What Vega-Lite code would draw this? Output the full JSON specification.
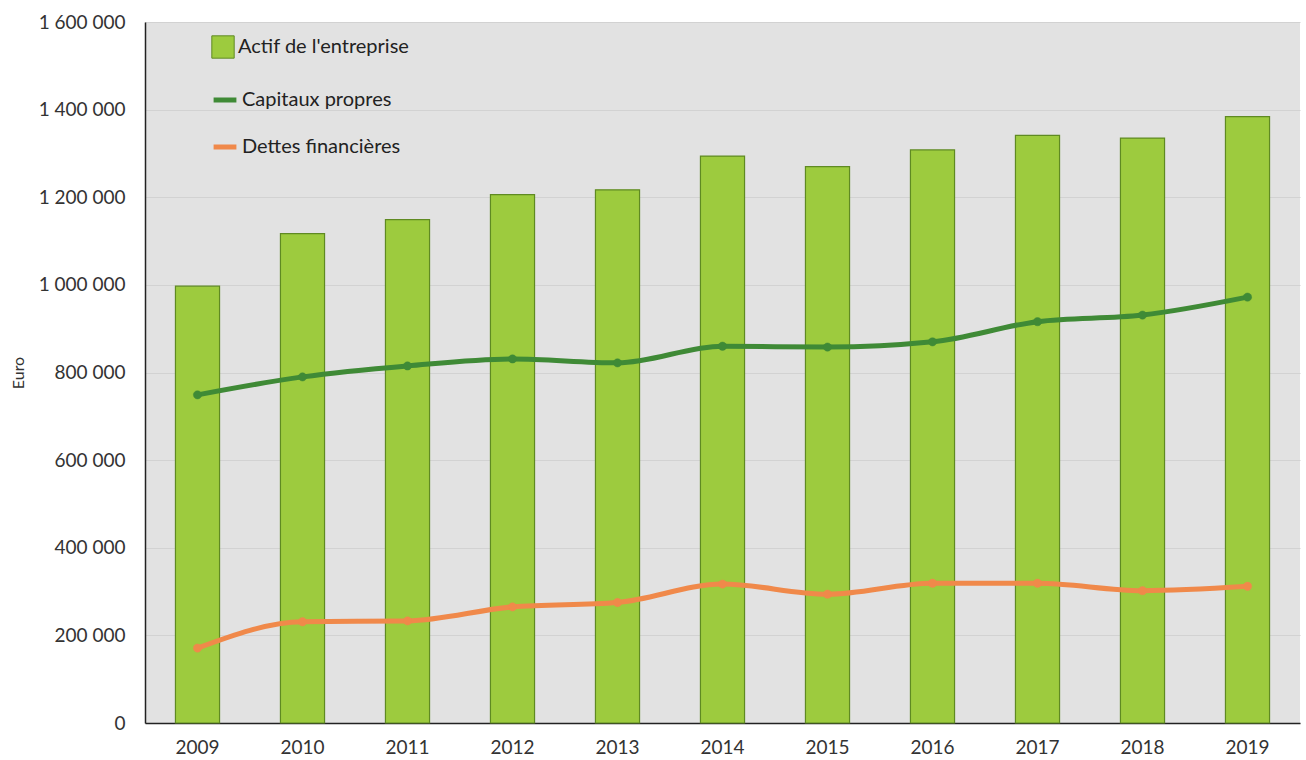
{
  "$schema": "https://vega.github.io/schema/vega-lite/v6.json",
  "width": 1155,
  "height": 701,
  "autosize": {"type": "none"},
  "padding": {"left": 145, "top": 22, "right": 6, "bottom": 37},
  "background": "#ffffff",
  "config": {
    "locale": {"number": {"decimal": ",", "thousands": " ", "grouping": [3], "currency": ["", " €"]}},
    "font": "Lato",
    "view": {"fill": "#e2e2e2", "stroke": null}
  },
  "datasets": {
    "actif": [
      {"annee": "2009", "serie": "Actif de l'entreprise", "valeur": 997000},
      {"annee": "2010", "serie": "Actif de l'entreprise", "valeur": 1117000},
      {"annee": "2011", "serie": "Actif de l'entreprise", "valeur": 1149000},
      {"annee": "2012", "serie": "Actif de l'entreprise", "valeur": 1206000},
      {"annee": "2013", "serie": "Actif de l'entreprise", "valeur": 1217000},
      {"annee": "2014", "serie": "Actif de l'entreprise", "valeur": 1294000},
      {"annee": "2015", "serie": "Actif de l'entreprise", "valeur": 1270000},
      {"annee": "2016", "serie": "Actif de l'entreprise", "valeur": 1308000},
      {"annee": "2017", "serie": "Actif de l'entreprise", "valeur": 1341000},
      {"annee": "2018", "serie": "Actif de l'entreprise", "valeur": 1335000},
      {"annee": "2019", "serie": "Actif de l'entreprise", "valeur": 1384000}
    ],
    "lignes": [
      {"annee": "2009", "serie": "Capitaux propres", "valeur": 749000},
      {"annee": "2010", "serie": "Capitaux propres", "valeur": 790000},
      {"annee": "2011", "serie": "Capitaux propres", "valeur": 815000},
      {"annee": "2012", "serie": "Capitaux propres", "valeur": 831000},
      {"annee": "2013", "serie": "Capitaux propres", "valeur": 822000},
      {"annee": "2014", "serie": "Capitaux propres", "valeur": 860000},
      {"annee": "2015", "serie": "Capitaux propres", "valeur": 858000},
      {"annee": "2016", "serie": "Capitaux propres", "valeur": 870000},
      {"annee": "2017", "serie": "Capitaux propres", "valeur": 916000},
      {"annee": "2018", "serie": "Capitaux propres", "valeur": 931000},
      {"annee": "2019", "serie": "Capitaux propres", "valeur": 972000},
      {"annee": "2009", "serie": "Dettes financières", "valeur": 171000},
      {"annee": "2010", "serie": "Dettes financières", "valeur": 231000},
      {"annee": "2011", "serie": "Dettes financières", "valeur": 233000},
      {"annee": "2012", "serie": "Dettes financières", "valeur": 265000},
      {"annee": "2013", "serie": "Dettes financières", "valeur": 275000},
      {"annee": "2014", "serie": "Dettes financières", "valeur": 317000},
      {"annee": "2015", "serie": "Dettes financières", "valeur": 294000},
      {"annee": "2016", "serie": "Dettes financières", "valeur": 319000},
      {"annee": "2017", "serie": "Dettes financières", "valeur": 319000},
      {"annee": "2018", "serie": "Dettes financières", "valeur": 302000},
      {"annee": "2019", "serie": "Dettes financières", "valeur": 312000}
    ]
  },
  "encoding": {
    "x": {
      "field": "annee",
      "type": "nominal",
      "sort": null,
      "scale": {"paddingInner": 0.58, "paddingOuter": 0.29},
      "axis": {
        "title": null,
        "labelAngle": 0,
        "labelFontSize": 19,
        "labelColor": "#333333",
        "labelPadding": 15,
        "ticks": false,
        "domainColor": "#222222",
        "domainWidth": 1.5,
        "grid": false
      }
    },
    "y": {
      "field": "valeur",
      "type": "quantitative",
      "scale": {"domain": [0, 1600000], "nice": false},
      "axis": {
        "title": "Euro",
        "titleFontSize": 16,
        "titleFontWeight": "normal",
        "titleColor": "#333333",
        "titlePadding": 12,
        "format": ",d",
        "values": [0, 200000, 400000, 600000, 800000, 1000000, 1200000, 1400000, 1600000],
        "labelFontSize": 19,
        "labelColor": "#333333",
        "labelPadding": 20,
        "ticks": false,
        "domainColor": "#222222",
        "domainWidth": 1.5,
        "grid": true,
        "gridColor": "#d2d2d2",
        "gridWidth": 1
      }
    }
  },
  "layer": [
    {
      "data": {"name": "actif"},
      "mark": {"type": "bar", "stroke": "#5f8a22", "strokeWidth": 1.2},
      "encoding": {
        "fill": {
          "field": "serie",
          "type": "nominal",
          "scale": {"domain": ["Actif de l'entreprise"], "range": ["#9dcb3e"]},
          "legend": {
            "title": null,
            "orient": "none",
            "legendX": 66,
            "legendY": 13,
            "labelFontSize": 20,
            "labelLimit": 500,
            "labelColor": "#222222",
            "symbolType": "square",
            "symbolSize": 500,
            "symbolStrokeColor": "#5f8a22",
            "symbolStrokeWidth": 1,
            "labelOffset": 3
          }
        }
      }
    },
    {
      "data": {"name": "lignes"},
      "mark": {
        "type": "line",
        "interpolate": "monotone",
        "strokeWidth": 5,
        "point": {"filled": true, "size": 70, "stroke": "#444444", "strokeWidth": 0.7, "strokeOpacity": 0.6}
      },
      "encoding": {
        "stroke": {
          "field": "serie",
          "type": "nominal",
          "scale": {"domain": ["Capitaux propres", "Dettes financières"], "range": ["#3f8a36", "#f0894a"]},
          "legend": {
            "title": null,
            "orient": "none",
            "legendX": 66,
            "legendY": 64,
            "labelFontSize": 20,
            "labelLimit": 500,
            "labelColor": "#222222",
            "symbolType": "stroke",
            "symbolSize": 520,
            "symbolStrokeWidth": 5,
            "rowPadding": 23,
            "labelOffset": 3
          }
        },
        "color": {
          "field": "serie",
          "type": "nominal",
          "scale": {"domain": ["Capitaux propres", "Dettes financières"], "range": ["#3f8a36", "#f0894a"]},
          "legend": null
        }
      }
    }
  ]
}
